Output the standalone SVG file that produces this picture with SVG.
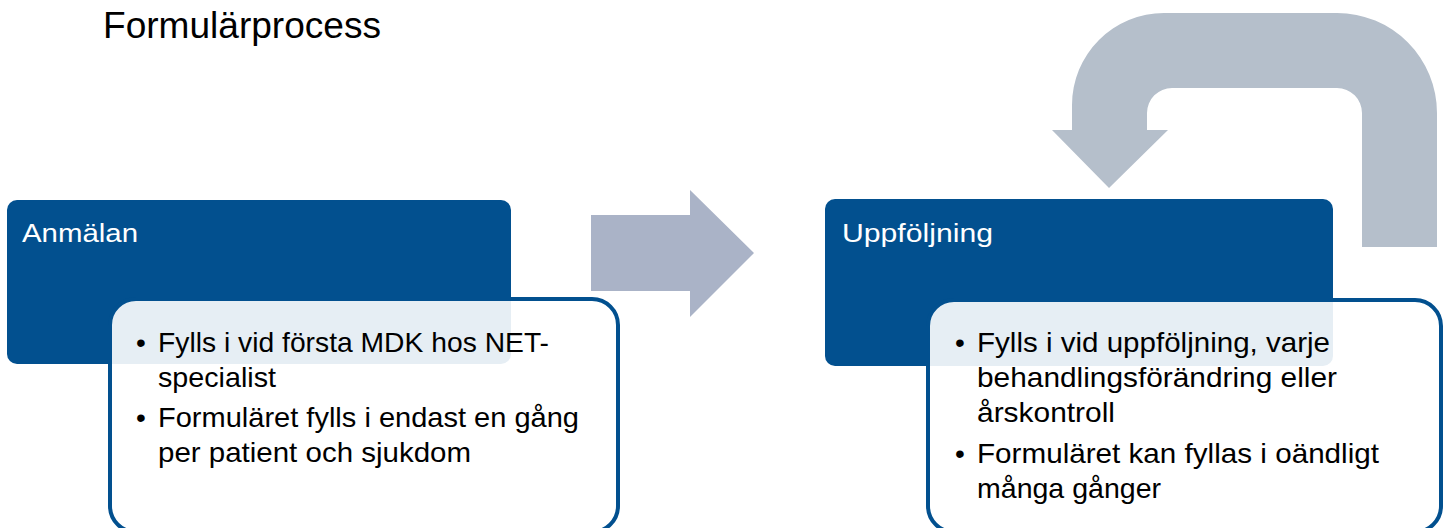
<svg xmlns="http://www.w3.org/2000/svg" width="1445" height="528" viewBox="0 0 1445 528">
<style>
.title{font-family:"Liberation Sans",Arial,sans-serif;font-size:36px;fill:#000}
.head{font-family:"Liberation Sans",Arial,sans-serif;font-size:25px;fill:#fff}
.txt{font-family:"Liberation Sans",Arial,sans-serif;font-size:28px;fill:#000}
.blue{fill:#02508F}
.card{fill:#fff;fill-opacity:0.9;stroke:#02508F;stroke-width:4}
</style>
<rect width="1445" height="528" fill="#fff"/>
<text class="title" x="103" y="38" textLength="278" lengthAdjust="spacingAndGlyphs">Formulärprocess</text>
<g id="connectors">
<path d="M591 215 L690 215 L690 190 L754 253 L690 317 L690 291 L591 291 Z" fill="#AAB3C7"/>
<path d="M1437 247 L1362 247 L1362 113 A25 25 0 0 0 1337 88 L1172 88 A25 25 0 0 0 1147 113 L1147 130 L1168 130 L1109 188 L1052 130 L1072 130 L1072 105 A92 92 0 0 1 1164 13 L1337 13 A100 100 0 0 1 1437 113 Z" fill="#B5BFCB"/>
</g>
<g id="anmalan">
<rect class="blue" x="7" y="200" width="504" height="164" rx="10"/>
<text class="head" x="22" y="242" textLength="116" lengthAdjust="spacingAndGlyphs">Anmälan</text>
<rect class="card" x="110" y="299" width="508" height="233" rx="26"/>
<text class="txt" x="136" y="352">•</text>
<text class="txt" x="158" y="352" textLength="391" lengthAdjust="spacingAndGlyphs">Fylls i vid första MDK hos NET-</text>
<text class="txt" x="158" y="387" textLength="118" lengthAdjust="spacingAndGlyphs">specialist</text>
<text class="txt" x="136" y="427">•</text>
<text class="txt" x="158" y="427" textLength="421" lengthAdjust="spacingAndGlyphs">Formuläret fylls i endast en gång</text>
<text class="txt" x="158" y="462" textLength="313" lengthAdjust="spacingAndGlyphs">per patient och sjukdom</text>
</g>
<g id="uppfoljning">
<rect class="blue" x="825" y="199" width="508" height="167" rx="10"/>
<text class="head" x="842" y="242" textLength="151" lengthAdjust="spacingAndGlyphs">Uppföljning</text>
<rect class="card" x="928" y="300" width="513" height="232" rx="26"/>
<text class="txt" x="955" y="352">•</text>
<text class="txt" x="977" y="352" textLength="353" lengthAdjust="spacingAndGlyphs">Fylls i vid uppföljning, varje</text>
<text class="txt" x="977" y="387" textLength="360" lengthAdjust="spacingAndGlyphs">behandlingsförändring eller</text>
<text class="txt" x="977" y="422" textLength="138" lengthAdjust="spacingAndGlyphs">årskontroll</text>
<text class="txt" x="955" y="463">•</text>
<text class="txt" x="977" y="463" textLength="402" lengthAdjust="spacingAndGlyphs">Formuläret kan fyllas i oändligt</text>
<text class="txt" x="977" y="498" textLength="184" lengthAdjust="spacingAndGlyphs">många gånger</text>
</g>
</svg>
